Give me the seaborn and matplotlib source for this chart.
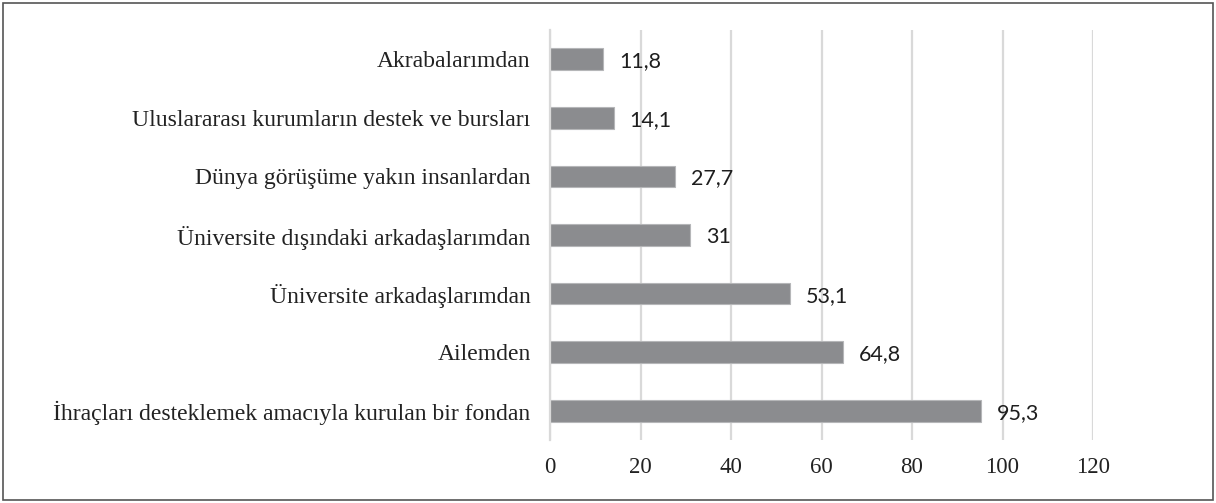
import matplotlib
matplotlib.use("Agg")
import matplotlib.pyplot as plt
import seaborn as sns
import pandas as pd
from matplotlib.patches import Rectangle

# Funding sources and their shares (%)
sources = [
    "Akrabalarımdan",
    "Uluslararası kurumların destek ve bursları",
    "Dünya görüşüme yakın insanlardan",
    "Üniversite dışındaki arkadaşlarımdan",
    "Üniversite arkadaşlarımdan",
    "Ailemden",
    "İhraçları desteklemek amacıyla kurulan bir fondan",
]
shares = [11.8, 14.1, 27.7, 31, 53.1, 64.8, 95.3]
share_labels = ["11,8", "14,1", "27,7", "31", "53,1", "64,8", "95,3"]
x_ticks = [0, 20, 40, 60, 80, 100, 120]

df = pd.DataFrame({"source": sources, "share": shares})

sns.set_theme(style="white")
plt.rcParams["font.family"] = ["Liberation Serif", "DejaVu Serif"]

fig = plt.figure(figsize=(12.16, 5.03), dpi=100)
ax = fig.add_axes([550 / 1216, 1 - 440 / 503, (1093 - 550) / 1216, (440 - 30) / 503])

sns.barplot(data=df, x="share", y="source", orient="h", color="#8b8c8f",
            width=0.37, edgecolor="#b5b6b8", linewidth=0.8, ax=ax, saturation=1)

ax.set_xlim(0, 120)
ax.set_ylim(6.5, -0.5)
ax.set_xticks(x_ticks)
ax.set_xticklabels([str(t) for t in x_ticks], fontsize=16.5, color="#222222")
ax.tick_params(axis="x", length=0, pad=12)
ax.tick_params(axis="y", length=0, pad=14, labelsize=17, labelcolor="#222222")
ax.set_xlabel("")
ax.set_ylabel("")
ax.xaxis.grid(True, color="#d9d9d9", linewidth=1.6)
ax.set_axisbelow(True)
for side in ["top", "right", "bottom"]:
    ax.spines[side].set_visible(False)
ax.spines["left"].set_color("#d9d9d9")
ax.spines["left"].set_linewidth(1.6)

for bar, txt in zip(ax.patches, share_labels):
    ax.annotate(txt, (bar.get_width(), bar.get_y() + bar.get_height() / 2),
                xytext=(11.5, -1.5), textcoords="offset points", va="center", ha="left",
                fontsize=15.5, color="#1e1e1e", family=["Lato", "DejaVu Sans"])

fig.patches.append(Rectangle((3 / 1216, 3 / 503), 1 - 6 / 1216, 1 - 6 / 503,
                             transform=fig.transFigure, fill=False,
                             edgecolor="#555555", linewidth=1.2))

fig.savefig("out.png", dpi=100, facecolor="white")
